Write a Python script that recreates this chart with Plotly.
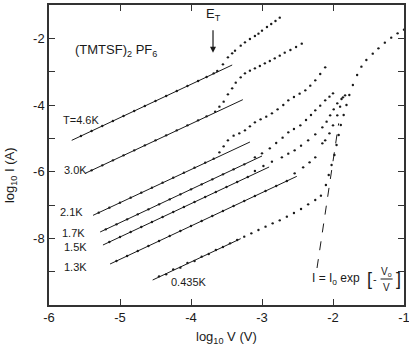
"""I-V curves of (TMTSF)2PF6 at several temperatures, log-log plot."""

import plotly.graph_objects as go

# ---- data (log10 V, log10 I) ----
T46_V = [-5.55, -5.40, -5.25, -5.10, -4.95, -4.80, -4.65, -4.50, -4.35, -4.20, -4.05, -3.90,
         -3.78, -3.68, -3.63, -3.55, -3.48, -3.42, -3.38, -3.30, -3.24, -3.17, -3.10, -3.05,
         -3.00, -2.93, -2.87, -2.81, -2.75]
T46_I = [-4.93, -4.78, -4.63, -4.48, -4.33, -4.18, -4.03, -3.88, -3.73, -3.58, -3.43, -3.28,
         -3.16, -3.05, -2.98, -2.78, -2.57, -2.45, -2.37, -2.22, -2.12, -2.02, -1.93, -1.86,
         -1.77, -1.66, -1.57, -1.48, -1.38]

T30_V = [-5.40, -5.25, -5.10, -4.95, -4.80, -4.65, -4.50, -4.35, -4.20, -4.05, -3.90, -3.78,
         -3.66, -3.60, -3.54, -3.48, -3.42, -3.37, -3.30, -3.24, -3.17, -3.10, -3.03, -2.96,
         -2.89, -2.82, -2.75, -2.68, -2.60, -2.52, -2.44]
T30_I = [-5.96, -5.81, -5.66, -5.51, -5.36, -5.21, -5.06, -4.91, -4.76, -4.61, -4.46, -4.34,
         -4.20, -4.05, -3.90, -3.68, -3.50, -3.33, -3.17, -3.05, -2.97, -2.90, -2.83, -2.75,
         -2.68, -2.60, -2.52, -2.43, -2.35, -2.26, -2.16]

T21_V = [-5.30, -5.15, -5.00, -4.85, -4.70, -4.55, -4.40, -4.25, -4.10, -3.95, -3.80, -3.68,
         -3.60, -3.54, -3.48, -3.40, -3.32, -3.24, -3.17, -3.10, -3.02, -2.94, -2.86, -2.78,
         -2.70, -2.63, -2.55, -2.47, -2.39, -2.32, -2.25, -2.18, -2.11]
T21_I = [-7.23, -7.08, -6.93, -6.78, -6.63, -6.48, -6.33, -6.18, -6.03, -5.88, -5.73, -5.61,
         -5.42, -5.24, -5.06, -4.92, -4.85, -4.76, -4.64, -4.52, -4.43, -4.35, -4.25, -4.13,
         -4.00, -3.86, -3.76, -3.66, -3.56, -3.42, -3.26, -3.07, -2.87]

T17_V = [-5.20, -5.05, -4.90, -4.75, -4.60, -4.45, -4.30, -4.15, -4.00, -3.85, -3.70, -3.55,
         -3.40, -3.25, -3.10, -3.00, -2.89, -2.80, -2.71, -2.63, -2.55, -2.46, -2.38, -2.31,
         -2.25, -2.18, -2.11, -2.05, -2.00]
T17_I = [-7.73, -7.58, -7.43, -7.28, -7.13, -6.98, -6.83, -6.68, -6.53, -6.38, -6.23, -6.08,
         -5.93, -5.78, -5.57, -5.45, -5.30, -5.14, -4.98, -4.82, -4.72, -4.61, -4.45, -4.30,
         -4.16, -4.02, -3.86, -3.75, -3.65]

T15_V = [-5.15, -5.00, -4.85, -4.70, -4.55, -4.40, -4.25, -4.10, -3.95, -3.80, -3.65, -3.50,
         -3.35, -3.20, -3.10, -2.98, -2.86, -2.72, -2.63, -2.54, -2.45, -2.35, -2.25, -2.15,
         -2.09, -2.04, -1.99, -1.94, -1.88, -1.83]
T15_I = [-8.11, -7.96, -7.81, -7.66, -7.51, -7.36, -7.21, -7.06, -6.91, -6.76, -6.61, -6.46,
         -6.31, -6.16, -5.98, -5.83, -5.70, -5.57, -5.46, -5.36, -5.22, -5.06, -4.88, -4.67,
         -4.50, -4.31, -4.13, -3.95, -3.82, -3.71]

T13_V = [-5.05, -4.90, -4.75, -4.60, -4.45, -4.30, -4.15, -4.00, -3.85, -3.70, -3.55, -3.40,
         -3.25, -3.10, -2.95, -2.80, -2.65, -2.54, -2.42, -2.33, -2.25, -2.15, -2.11, -2.05,
         -2.00, -1.94, -1.90, -1.86]
T13_I = [-8.68, -8.53, -8.38, -8.23, -8.08, -7.93, -7.78, -7.63, -7.48, -7.33, -7.18, -7.03,
         -6.88, -6.73, -6.58, -6.43, -6.28, -6.05, -5.87, -5.72, -5.57, -5.15, -5.06, -4.85,
         -4.61, -4.31, -4.05, -3.77]

T0435_V = [-4.45, -4.35, -4.25, -4.15, -4.05, -3.95, -3.85, -3.75, -3.65, -3.55, -3.45, -3.35,
           -3.25, -3.15, -3.05, -2.95, -2.85, -2.75, -2.65, -2.55, -2.45, -2.35, -2.25, -2.17,
           -2.10, -2.06, -2.02, -1.98, -1.95, -1.92, -1.89, -1.85, -1.81, -1.77, -1.72, -1.66,
           -1.60, -1.53, -1.44, -1.36, -1.27, -1.18, -1.09, -1.00]
T0435_I = [-9.14, -9.08, -8.93, -8.88, -8.74, -8.68, -8.55, -8.47, -8.35, -8.26, -8.15, -8.05,
           -7.95, -7.85, -7.75, -7.65, -7.55, -7.46, -7.35, -7.24, -7.12, -6.98, -6.85, -6.72,
           -6.40, -6.10, -5.80, -5.50, -5.20, -4.90, -4.60, -4.30, -4.00, -3.70, -3.40, -3.10,
           -2.85, -2.65, -2.46, -2.30, -2.13, -1.98, -1.85, -1.74]

# ohmic fits (end points) and the exp(-V0/V) fit
FIT_V = {
    "4.6": [-5.68, -3.42], "3.0": [-5.49, -3.27], "2.1": [-5.38, -3.17], "1.7": [-5.28, -3.00],
    "1.5": [-5.24, -2.90], "1.3": [-5.14, -2.51], "0.435": [-4.54, -3.30],
}
FIT_I = {
    "4.6": [-5.06, -2.80], "3.0": [-6.05, -3.84], "2.1": [-7.31, -5.11], "1.7": [-7.81, -5.53],
    "1.5": [-8.20, -5.86], "1.3": [-8.77, -6.14], "0.435": [-9.25, -8.01],
}
EXP_FIT_V = [-2.225, -1.92]
EXP_FIT_I = [-8.89, -4.55]

X_TICKS = [-6, -5, -4, -3, -2, -1]
X_LABELS = ["-6", "-5", "-4", "-3", "-2", "-1"]
Y_TICKS = [-9, -8, -7, -6, -5, -4, -3, -2]
Y_LABELS = ["", "-8", "", "-6", "", "-4", "", "-2"]

INK = "#1a1a1a"
FONT = "Liberation Sans, Arial, sans-serif"

series = [
    (T46_V, T46_I), (T30_V, T30_I), (T21_V, T21_I), (T17_V, T17_I),
    (T15_V, T15_I), (T13_V, T13_I), (T0435_V, T0435_I),
]

fig = go.Figure()
for key in FIT_V:
    fig.add_trace(go.Scatter(x=FIT_V[key], y=FIT_I[key], mode="lines",
                             line={"color": INK, "width": 1}, showlegend=False))
for xs, ys in series:
    fig.add_trace(go.Scatter(x=xs, y=ys, mode="markers",
                             marker={"color": INK, "size": 2.4}, showlegend=False))
fig.add_trace(go.Scatter(x=EXP_FIT_V, y=EXP_FIT_I, mode="lines",
                         line={"color": INK, "width": 1, "dash": "dash"}, showlegend=False))

labels = [
    ("T=4.6K", -5.55, -4.46), ("3.0K", -5.63, -5.96), ("2.1K", -5.68, -7.22),
    ("1.7K", -5.66, -7.84), ("1.5K", -5.63, -8.26), ("1.3K", -5.62, -8.86),
    ("0.435K", -4.03, -9.31),
]
for text, x, y in labels:
    fig.add_annotation(x=x, y=y, text=text, showarrow=False,
                       font={"size": 11, "color": INK, "family": FONT})

fig.add_annotation(x=-5.06, y=-2.37, text="(TMTSF)<sub>2</sub> PF<sub>6</sub>", showarrow=False,
                   font={"size": 13, "color": INK, "family": FONT})
fig.add_annotation(x=-3.69, y=-1.29, text="E<sub>T</sub>", showarrow=False,
                   font={"size": 13, "color": INK, "family": FONT})
fig.add_annotation(x=-3.69, y=-2.43, ax=0, ay=-24, text="", showarrow=True,
                   arrowhead=2, arrowsize=1, arrowwidth=1.2, arrowcolor=INK)

# I = Io exp[-Vo/V]
formula = [
    ("I = I<sub>o</sub> exp", -1.96, -9.22, 12),
    ("[", -1.49, -9.22, 18), ("-", -1.41, -9.22, 11),
    ("V<sub>o</sub>", -1.24, -9.0, 10), ("V", -1.25, -9.46, 10),
    ("]", -1.08, -9.22, 18),
]
for text, x, y, size in formula:
    fig.add_annotation(x=x, y=y, text=text, showarrow=False,
                       font={"size": size, "color": INK, "family": FONT})
fig.add_shape(type="line", x0=-1.33, x1=-1.16, y0=-9.22, y1=-9.22,
              line={"color": INK, "width": 1})

fig.add_annotation(xref="paper", yref="paper", x=0.5, y=-0.107,
                   xanchor="center", yanchor="middle",
                   text="log<sub>10</sub> V (V)", showarrow=False,
                   font={"size": 13, "color": INK, "family": FONT})
fig.add_annotation(xref="paper", yref="paper", x=-0.11, y=0.433, textangle=-90,
                   xanchor="center", yanchor="middle",
                   text="log<sub>10</sub> I (A)", showarrow=False,
                   font={"size": 13, "color": INK, "family": FONT})

axis_style = dict(showline=True, linecolor="#333", linewidth=1.5, mirror="ticks",
                  ticks="inside", ticklen=6, tickcolor="#333", tickwidth=1.2,
                  showgrid=False, zeroline=False, automargin=False,
                  ticklabeloverflow="allow",
                  tickfont={"size": 13, "color": INK, "family": FONT})
fig.update_xaxes(range=[-6, -1], tickvals=X_TICKS, ticktext=X_LABELS, **axis_style)
fig.update_yaxes(range=[-10, -1], tickvals=Y_TICKS, ticktext=Y_LABELS, **axis_style)

fig.update_layout(
    width=409, height=351,
    margin={"l": 49, "r": 5, "t": 5, "b": 46},
    paper_bgcolor="white", plot_bgcolor="white",
    font={"family": FONT, "color": INK},
)

# the page body has a default 8px margin; remove it so the figure sits at the corner
fig.write_html("out.html", config={"displayModeBar": False},
               post_script="document.body.style.margin='0';")
